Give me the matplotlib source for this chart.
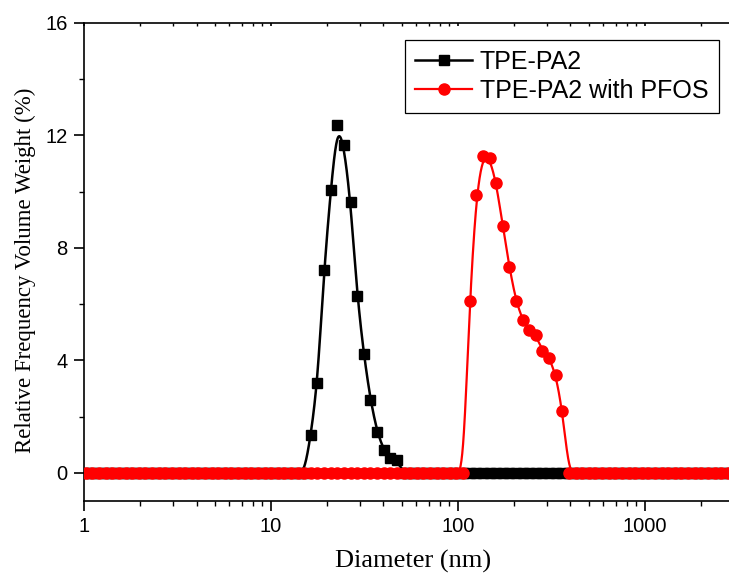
import numpy as np
import matplotlib
matplotlib.use("Agg")
import matplotlib.pyplot as plt
from matplotlib.ticker import FixedLocator, NullFormatter, LogLocator, FixedFormatter

# ---------------- data ----------------
diameter_nm = [
    1.023, 1.110, 1.205, 1.307, 1.418, 1.538, 1.669, 1.811, 1.964, 2.131,
    2.312, 2.509, 2.722, 2.953, 3.203, 3.476, 3.771, 4.091, 4.438, 4.815,
    5.224, 5.668, 6.149, 6.671, 7.238, 7.853, 8.520, 9.243, 10.03, 10.88,
    11.80, 12.81, 13.89, 15.07, 16.35, 17.74, 19.25, 20.89, 22.66, 24.58,
    26.67, 28.94, 31.39, 34.06, 36.95, 40.09, 43.49, 47.19, 51.19, 55.54,
    60.26, 65.38, 70.93, 76.95, 83.49, 90.58, 98.27, 106.6, 115.7, 125.5,
    136.1, 147.7, 160.3, 173.9, 188.6, 204.6, 222.0, 240.9, 261.3, 283.5,
    307.6, 333.7, 362.1, 392.8, 426.2, 462.4, 501.6, 544.2, 590.5, 640.6,
    695.0, 754.0, 818.1, 887.5, 962.9, 1044.7, 1133.4, 1229.6, 1334.0, 1447.3,
    1570.2, 1703.6, 1848.3, 2005.2, 2175.5, 2360.3, 2560.7, 2778.2, 3014.1,
]

tpe_pa2 = [
    0, 0, 0, 0, 0, 0, 0, 0, 0, 0,
    0, 0, 0, 0, 0, 0, 0, 0, 0, 0,
    0, 0, 0, 0, 0, 0, 0, 0, 0, 0,
    0, 0, 0, 0, 1.35, 3.21, 7.22, 10.05, 12.36, 11.64,
    9.62, 6.30, 4.22, 2.60, 1.47, 0.82, 0.52, 0.44, 0, 0,
    0, 0, 0, 0, 0, 0, 0, 0, 0, 0,
    0, 0, 0, 0, 0, 0, 0, 0, 0, 0,
    0, 0, 0, 0, 0, 0, 0, 0, 0, 0,
    0, 0, 0, 0, 0, 0, 0, 0, 0, 0,
    0, 0, 0, 0, 0, 0, 0, 0, 0,
]

tpe_pa2_pfos = [
    0, 0, 0, 0, 0, 0, 0, 0, 0, 0,
    0, 0, 0, 0, 0, 0, 0, 0, 0, 0,
    0, 0, 0, 0, 0, 0, 0, 0, 0, 0,
    0, 0, 0, 0, 0, 0, 0, 0, 0, 0,
    0, 0, 0, 0, 0, 0, 0, 0, 0, 0,
    0, 0, 0, 0, 0, 0, 0, 0, 6.12, 9.86,
    11.26, 11.20, 10.31, 8.77, 7.31, 6.11, 5.44, 5.09, 4.89, 4.34,
    4.10, 3.49, 2.21, 0, 0, 0, 0, 0, 0, 0,
    0, 0, 0, 0, 0, 0, 0, 0, 0, 0,
    0, 0, 0, 0, 0, 0, 0, 0, 0,
]

series_labels = ["TPE-PA2", "TPE-PA2 with PFOS"]
x_ticks = [1, 10, 100, 1000]
x_tick_labels = ["1", "10", "100", "1000"]
y_ticks = [0, 4, 8, 12, 16]
y_minor_ticks = [2, 6, 10, 14]
x_label = "Diameter (nm)"
y_label = "Relative Frequency Volume Weight (%)"


def bspline(x, y, n=24):
    """Uniform cubic B-spline using the points as control points (log10 x, y)."""
    lx = np.log10(np.asarray(x, float))
    yy = np.asarray(y, float)
    P = np.column_stack([lx, yy])
    P = np.vstack([P[0], P[0], P, P[-1], P[-1]])
    t = np.linspace(0, 1, n, endpoint=False)
    b0 = (1 - t) ** 3 / 6
    b1 = (3 * t ** 3 - 6 * t ** 2 + 4) / 6
    b2 = (-3 * t ** 3 + 3 * t ** 2 + 3 * t + 1) / 6
    b3 = t ** 3 / 6
    pts = []
    for i in range(len(P) - 3):
        seg = (np.outer(b0, P[i]) + np.outer(b1, P[i + 1])
               + np.outer(b2, P[i + 2]) + np.outer(b3, P[i + 3]))
        pts.append(seg)
    pts.append(P[-1][None, :])
    pts = np.vstack(pts)
    return 10 ** pts[:, 0], pts[:, 1]


fig = plt.figure(figsize=(7.29, 5.79), dpi=100)
ax = fig.add_axes([84 / 729, 78 / 579, 650 / 729, 478.3 / 579])

tick_font = "Liberation Sans"
label_font = "Liberation Serif"

# black series
bx, by = bspline(diameter_nm, tpe_pa2)
ax.plot(bx, by, color="black", lw=1.8, zorder=2)
ax.plot(diameter_nm, tpe_pa2, ls="none", marker="s", ms=7.2, color="black",
        zorder=3)
# red series
rx, ry = bspline(diameter_nm, tpe_pa2_pfos)
ax.plot(rx, ry, color="red", lw=1.6, zorder=4)
ax.plot(diameter_nm, tpe_pa2_pfos, ls="none", marker="o", ms=8.0, color="red",
        zorder=5)

# legend proxies
h1, = ax.plot([], [], color="black", lw=1.8, marker="s", ms=7.2)
h2, = ax.plot([], [], color="red", lw=1.6, marker="o", ms=8.0)
leg = fig.legend([h1, h2], series_labels, loc="upper left",
                 bbox_to_anchor=(405 / 729, 1 - 40 / 579),
                 prop={"family": tick_font, "size": 18},
                 frameon=True, fancybox=False, framealpha=1, edgecolor="black",
                 handlelength=2.28, handletextpad=0.32, labelspacing=0.18,
                 borderpad=0.4, borderaxespad=0, numpoints=1)
leg.get_frame().set_linewidth(0.9)

ax.set_xscale("log")
ax.set_xlim(1, 3000)
ax.set_ylim(-1, 16)

ax.xaxis.set_major_locator(FixedLocator(x_ticks))
ax.xaxis.set_major_formatter(FixedFormatter(x_tick_labels))
ax.xaxis.set_minor_locator(LogLocator(base=10, subs=np.arange(2, 10)))
ax.xaxis.set_minor_formatter(NullFormatter())
ax.set_yticks(y_ticks)
ax.set_yticks(y_minor_ticks, minor=True)

for s in ax.spines.values():
    s.set_linewidth(1.2)

ax.tick_params(axis="both", which="major", direction="out", length=7.3,
               width=1.2, labelsize=14.5, pad=4.5)
ax.tick_params(axis="both", which="minor", direction="out", length=3.8,
               width=1.0)
ax.tick_params(axis="x", which="both", top=True)
for t in ax.xaxis.get_major_ticks() + ax.xaxis.get_minor_ticks():
    t.tick2line.set_markersize(2)
    t.tick2line.set_marker(3)  # tick pointing down (inward) on top spine

for lab in ax.get_xticklabels() + ax.get_yticklabels():
    lab.set_fontfamily(tick_font)

fig.text(413.5 / 729, 1 - 561 / 579, x_label, fontfamily=label_font,
         fontsize=19, ha="center", va="center")
fig.text(25 / 729, 1 - 270 / 579, y_label, fontfamily=label_font,
         fontsize=16.5, ha="center", va="center", rotation=90)

fig.savefig("out.png", dpi=100)
